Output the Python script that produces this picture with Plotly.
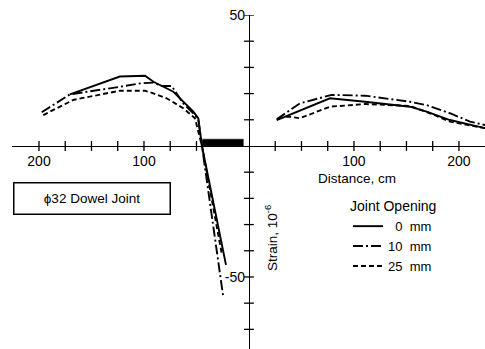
import plotly.graph_objects as go

# ---------------- data (distance in cm, left side negative; strain in 1e-6) ----
solid_left_x = [-170.5, -123, -99, -91, -72, -64, -53, -48.3, -44.8, -21.9]
solid_left_y = [19.7, 26.5, 26.8, 24.5, 20.7, 17.6, 13.1, 10.6, 0, -45.4]
solid_right_x = [26.4, 77.1, 110.5, 153.3, 169.2, 191.4, 224.8]
solid_right_y = [9.9, 18.2, 16.9, 15.0, 13.1, 9.9, 6.8]

dashdot_left_x = [-197.4, -170.5, -122.9, -103.8, -91.1, -83.1, -73.6, -70.5, -62.9, -53.3, -48.3, -44.8, -24.5]
dashdot_left_y = [12.9, 19.7, 22.6, 23.9, 24.2, 22.9, 22.9, 21.1, 16.4, 12.6, 10.3, 0, -57.6]
dashdot_right_x = [26.4, 48.6, 78.8, 110.5, 153.3, 169.2, 191.4, 210.5, 224.8]
dashdot_right_y = [10.2, 16.3, 19.5, 19.2, 16.9, 15.6, 12.5, 9.3, 8.0]

dash_left_x = [-195.9, -167.3, -122.9, -99.0, -91.1, -78.4, -62.6, -51.4, -44.8, -25.7]
dash_left_y = [11.8, 17.6, 21.1, 21.1, 20.1, 18.2, 14.4, 10.6, 0, -41.6]
dash_right_x = [27.9, 37.4, 48.6, 77.1, 110.5, 153.3, 172.4, 191.4, 224.8]
dash_right_y = [10.6, 11.2, 10.6, 15.0, 16.0, 15.3, 12.5, 9.3, 6.8]

series_names = ["\u20070\u00a0\u00a0mm", "10\u00a0\u00a0mm", "25\u00a0\u00a0mm"]

# dowel bar (cm, strain units)
dowel_start = -44.5
dowel_end = -5.4
dowel_height = 2.6

# axis ticks
x_tick_marks = [-200, -175, -150, -125, -100, -75, -50, 25, 50, 75, 100, 125, 150, 175, 200]
x_label_vals = [-200, -100, 100, 200]
x_label_text = ["200", "100", "100", "200"]
y_tick_marks = [50, 40, 30, 20, 10, -10, -20, -30, -40, -50, -60, -70]
y_label_vals = [50, -50]
y_label_text = ["50", "-50"]

W, H = 485, 349
X_RANGE = [-225.7, 224.8]
Y_RANGE = [-77.5, 50]
FONT = "Liberation Sans, Arial, sans-serif"

fig = go.Figure()


def joined(a, b):
    return list(a) + [None] + list(b)


styles = [
    (solid_left_x, solid_left_y, solid_right_x, solid_right_y, "solid"),
    (dashdot_left_x, dashdot_left_y, dashdot_right_x, dashdot_right_y, "10px,3px,2px,3px"),
    (dash_left_x, dash_left_y, dash_right_x, dash_right_y, "5px,3px"),
]
for name, (lx, ly, rx, ry, dash) in zip(series_names, styles):
    fig.add_trace(go.Scatter(
        x=joined(lx, rx), y=joined(ly, ry), mode="lines", name=name,
        line=dict(color="black", width=1.9, dash=dash), connectgaps=False,
    ))

# dowel bar
fig.add_trace(go.Scatter(
    x=[dowel_start, dowel_end, dowel_end, dowel_start],
    y=[0, 0, dowel_height, dowel_height],
    fill="toself", fillcolor="black", mode="lines",
    line=dict(color="black", width=0.5), showlegend=False, hoverinfo="skip",
))

# crossing tick marks
fig.add_trace(go.Scatter(
    x=x_tick_marks, y=[0] * len(x_tick_marks), mode="markers", showlegend=False,
    marker=dict(symbol="line-ns", size=7, line=dict(color="black", width=1.3)),
    hoverinfo="skip",
))
fig.add_trace(go.Scatter(
    x=[0] * len(y_tick_marks), y=y_tick_marks, mode="markers", showlegend=False,
    marker=dict(symbol="line-ew", size=7, line=dict(color="black", width=1.3)),
    hoverinfo="skip",
))

x_dom0 = 12 / W
y_dom1 = (H - 15) / H
x_pos = (0 - X_RANGE[0]) / (X_RANGE[1] - X_RANGE[0]) * (1 - x_dom0) + x_dom0
y_pos = (0 - Y_RANGE[0]) / (Y_RANGE[1] - Y_RANGE[0]) * y_dom1

fig.update_layout(
    width=W, height=H,
    margin=dict(l=0, r=0, t=0, b=0, autoexpand=False),
    paper_bgcolor="white", plot_bgcolor="white",
    font=dict(family=FONT, size=14, color="black"),
    xaxis=dict(
        range=X_RANGE, domain=[x_dom0, 1], anchor="free", position=y_pos,
        showgrid=False, zeroline=False, showline=True, linecolor="black", linewidth=1.4,
        tickmode="array", tickvals=x_label_vals, ticktext=x_label_text,
        ticks="", tickfont=dict(size=14), ticklabelstandoff=2, automargin=False,
    ),
    yaxis=dict(
        range=Y_RANGE, domain=[0, y_dom1], anchor="free", position=x_pos,
        showgrid=False, zeroline=False, showline=True, linecolor="black", linewidth=1.4,
        tickmode="array", tickvals=y_label_vals, ticktext=y_label_text,
        ticks="", tickfont=dict(size=14), ticklabelstandoff=1, automargin=False,
    ),
    showlegend=True,
    legend=dict(
        x=348 / W, y=1 - 193 / H, xanchor="left", yanchor="top",
        bgcolor="rgba(0,0,0,0)", borderwidth=0,
        title=dict(text="Joint Opening", side="top", font=dict(size=14)),
        font=dict(size=13), tracegroupgap=0, itemwidth=30,
    ),
    annotations=[
        dict(text="Distance, cm", x=357 / W, y=1 - 178 / H, xref="paper", yref="paper",
             xanchor="center", yanchor="middle",
             showarrow=False, font=dict(size=13.5)),
        dict(text="Strain, 10<sup>-6</sup>", x=271 / W, y=1 - 238 / H, xref="paper", yref="paper",
             xanchor="center", yanchor="middle",
             showarrow=False, textangle=-90, font=dict(size=13.5)),
        dict(text="\u03d532 Dowel Joint", x=92 / W, y=1 - 198 / H, xref="paper", yref="paper",
             xanchor="center", yanchor="middle",
             showarrow=False, font=dict(size=13.5), width=155, height=30,
             bordercolor="black", borderwidth=1.5, borderpad=0),
    ],
)

fig.write_html("out.html")
